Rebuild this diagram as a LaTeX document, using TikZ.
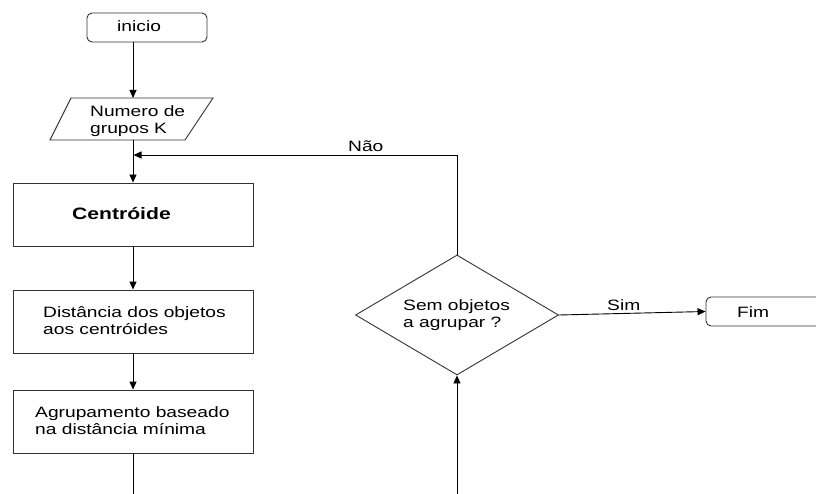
\documentclass[tikz,border=0pt]{standalone}
\usepackage{fontspec}
\setmainfont{Liberation Sans}[FakeStretch=1.28]
\usetikzlibrary{arrows.meta,shapes.geometric}
\begin{document}
\begin{tikzpicture}[x=1pt,y=-1pt,
  outline/.style={draw=black!80, line width=0.9pt},
  box/.style={outline, rectangle, minimum width=240pt, minimum height=63pt, inner sep=0pt},
  term/.style={outline, rectangle, rounded corners=5pt, inner sep=0pt},
  txt/.style={anchor=base west, inner sep=0pt, font=\fontsize{15}{18}\selectfont},
  arr/.style={line width=0.9pt, -{Triangle[length=8pt,width=7pt]}},
  ln/.style={line width=0.9pt}]
\useasboundingbox (0,0) rectangle (816,494);
\clip (0,0) rectangle (816,494);
\fill[white] (0,0) rectangle (816,494);
% start
\node[term, minimum width=120pt, minimum height=29pt] (inicio) at (147,27.5) {};
\node[txt] (tinicio) at (117,32) {inicio};
% input parallelogram
\draw[outline] (71,98) -- (213,98) -- (185,140) -- (50,140) -- cycle;
\coordinate (partop) at (133,98);
\coordinate (parbot) at (133,140);
\node[txt] (tpar1) at (90,117) {Numero de};
\node[txt] (tpar2) at (90,134) {grupos K};
% process boxes
\node[box] (cent) at (133,214.5) {};
\node[txt, font=\fontsize{16.5}{18}\selectfont\bfseries] (tcent) at (72,220) {Centróide};
\node[box] (dist) at (133,321.5) {};
\node[txt] (tdist1) at (43,317) {Distância dos objetos};
\node[txt] (tdist2) at (43,334) {aos centróides};
\node[box] (agr) at (133,421.5) {};
\node[txt] (tagr1) at (35,417) {Agrupamento baseado};
\node[txt] (tagr2) at (35,434) {na distância mínima};
\coordinate (exitL) at (133,500);
% decision
\node[outline, diamond, minimum width=203pt, minimum height=120pt, inner sep=0pt] (dec) at (457,315) {};
\node[txt] (tdec1) at (403,310) {Sem objetos};
\node[txt] (tdec2) at (403,327) {a agrupar ?};
\coordinate (entryR) at (457,500);
\coordinate (loopR) at (457,155);
\coordinate (loopL) at (133.5,155);
% end
\node[term, minimum width=130pt, minimum height=29pt] (fim) at (771,311.5) {};
\node[txt] (tfim) at (737,317) {Fim};
% connectors
\draw[arr] (inicio.south -| partop) -- (partop);
\draw[arr] (parbot) -- (cent.north);
\draw[arr] (cent.south) -- (dist.north);
\draw[arr] (dist.south) -- (agr.north);
\draw[ln] (agr.south) -- (exitL);
\draw[arr] (entryR) -- (dec.south);
\draw[arr] (dec.north) -- (loopR) -- (loopL);
\node[txt] (tnao) at (348,152) {Não};
\draw[arr] (dec.east) -- (fim.west);
\node[txt] (tsim) at (607,310) {Sim};
\end{tikzpicture}
\end{document}
